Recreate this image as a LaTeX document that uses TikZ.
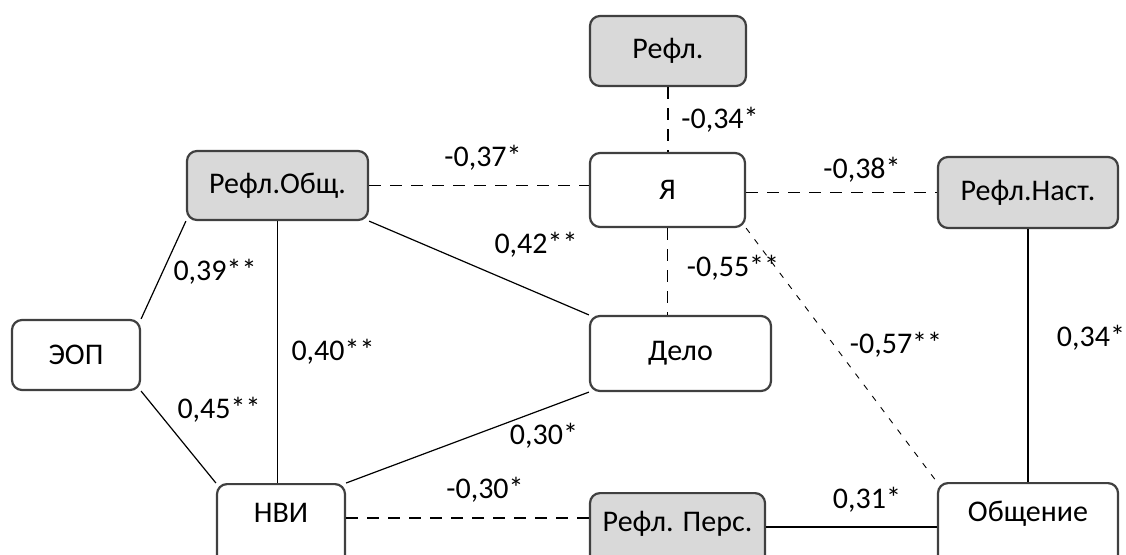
\documentclass[tikz,border=0pt]{standalone}
\usepackage{fontspec}
\setmainfont{Carlito}
\usepackage{tikz}
\usetikzlibrary{positioning}
\definecolor{boxline}{HTML}{404040}
\definecolor{boxgray}{HTML}{D9D9D9}
\tikzset{
  box/.style={draw=boxline, line width=1.1pt, rounded corners=5pt, fill=white, inner sep=0pt},
  grey/.style={box, fill=boxgray},
  cut/.style={anchor=north, text height=19.3pt, text depth=25pt},
  link/.style={line width=0.6pt},
  neg/.style={link, dash pattern=on 6pt off 4.5pt},
  fine/.style={line width=0.45pt, dash pattern=on 3pt off 4pt},
  val/.style={inner sep=0pt}
}

\begin{document}
\begin{tikzpicture}[x=0.5pt, y=-0.5pt, font=\fontsize{15}{17}\selectfont]
 \useasboundingbox (0,0) rectangle (1126,554);
 \clip (0,0) rectangle (1126,554);
 % boxes
 \node[grey, minimum width=78pt, minimum height=35pt] (refl) at (668,51) {Рефл.};
 \node[box, minimum width=77.5pt, minimum height=37pt] (ya) at (667.5,190) {Я};
 \node[grey, minimum width=90.5pt, minimum height=34.5pt] (reflobsch) at (277.5,185.5) {Рефл.Общ.};
 \node[grey, minimum width=90pt, minimum height=35.5pt] (reflnast) at (1028,192.5) {Рефл.Наст.};
 \node[box, minimum width=64pt, minimum height=35pt] (eop) at (76,355) {ЭОП};
 \node[box, minimum width=90.5pt, minimum height=37.5pt] (delo) at (680.5,353.5) {Дело};
 \node[box, cut, minimum width=64pt] (nvi) at (281,483) {НВИ};
 \node[grey, cut, minimum width=87.5pt] (reflpers) at (677.5,492) {Рефл. Перс.};
 \node[box, cut, minimum width=90pt] (obsch) at (1028,482) {Общение};
 % links
 \draw[neg] (refl.south) -- (refl.south |- ya.north);
 \draw[neg] (reflobsch.east) -- (reflobsch.east -| ya.west);
 \draw[neg] (ya.east |- reflnast.west) -- (reflnast.west);
 \draw[neg] (ya.south) -- (ya.south |- delo.north);
 \draw[fine] (ya.south east) -- (obsch.north west);
 \draw[link] (reflobsch.south east) -- (delo.north west);
 \draw[link] (reflobsch.south) -- (reflobsch.south |- nvi.north);
 \draw[link] (reflobsch.south west) -- (eop.north east);
 \draw[link] (eop.south east) -- (nvi.north west);
 \draw[link] (delo.south west) -- (nvi.north east);
 \draw[neg] (nvi.mid east) -- (nvi.mid east -| reflpers.west);
 \draw[link] (reflpers.mid east) -- (reflpers.mid east -| obsch.west);
 \draw[link] (reflnast.south) -- (reflnast.south |- obsch.north);
 % values
 \node[val] (vreflya) at (720,120) {-0,34*};
 \node[val] (vobschya) at (483,158) {-0,37*};
 \node[val] (vyanast) at (862,170) {-0,38*};
 \node[val] (vyadelo) at (733,268) {-0,55**};
 \node[val] (vyaobsch) at (896,345) {-0,57**};
 \node[val] (vobschdelo) at (536,245) {0,42**};
 \node[val] (vobscheop) at (215,272) {0,39**};
 \node[val] (vobschnvi) at (333,352) {0,40**};
 \node[val] (veopnvi) at (219,410) {0,45**};
 \node[val] (vdelonvi) at (544,436) {0,30*};
 \node[val] (vnvipers) at (485,490) {-0,30*};
 \node[val] (vpersobsch) at (867,500) {0,31*};
 \node[val] (vnastobsch) at (1091,338) {0,34*};
\end{tikzpicture}
\end{document}
